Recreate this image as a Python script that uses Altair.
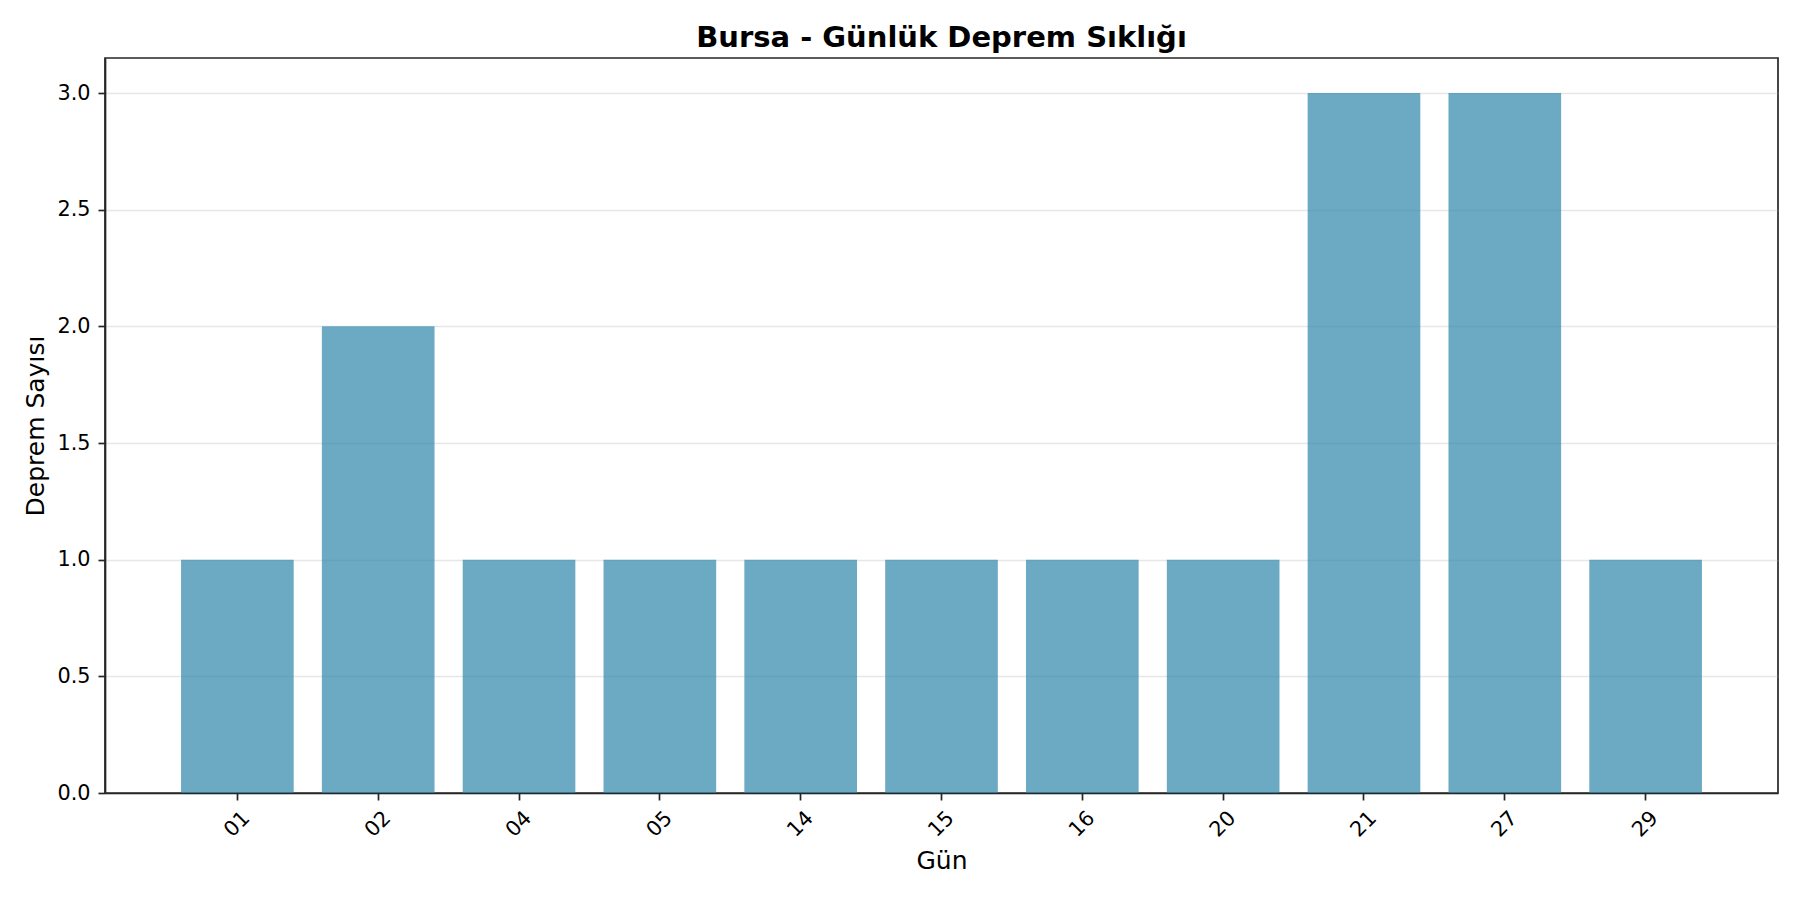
import altair as alt
import pandas as pd

days = ["01", "02", "04", "05", "14", "15", "16", "20", "21", "27", "29"]
counts = [1, 2, 1, 1, 1, 1, 1, 1, 3, 3, 1]

df = pd.DataFrame({"Gün": days, "Deprem Sayısı": counts})

FONT = "DejaVu Sans"

chart = alt.Chart(df).mark_bar(color="#2E86AB", opacity=0.7).encode(
    x=alt.X(
        "Gün:N",
        sort=days,
        scale=alt.Scale(paddingInner=0.2, paddingOuter=0.54),
        axis=alt.Axis(
            title="Gün",
            labelAngle=-45,
            labelAlign="center",
            labelBaseline="middle",
            labelPadding=24,
            titleY=75,
            titleBaseline="alphabetic",
            grid=False,
        ),
    ),
    y=alt.Y(
        "Deprem Sayısı:Q",
        scale=alt.Scale(domain=[0, 3.15], nice=False, zero=True),
        axis=alt.Axis(
            title="Deprem Sayısı",
            values=[0, 0.5, 1.0, 1.5, 2.0, 2.5, 3.0],
            format=".1f",
            labelPadding=8,
            titleX=-62,
            titleBaseline="alphabetic",
            grid=True,
            gridColor="#b0b0b0",
            gridOpacity=0.3,
            gridWidth=1.6,
        ),
    ),
).properties(
    width=1673,
    height=735,
    title=alt.TitleParams(
        "Bursa - Günlük Deprem Sıklığı",
        fontSize=29,
        fontWeight="bold",
        font=FONT,
        color="#000000",
        anchor="middle",
        baseline="alphabetic",
        offset=-18,
    ),
    autosize=alt.AutoSizeParams(type="none"),
    padding={"left": 97, "top": 50, "right": 14, "bottom": 98},
).configure_view(
    stroke="#262626", strokeWidth=1.7
).configure_axis(
    labelFont=FONT,
    titleFont=FONT,
    labelFontSize=20.8,
    titleFontSize=25,
    titleFontWeight="normal",
    labelColor="#000000",
    titleColor="#000000",
    domainColor="#262626",
    domainWidth=1.7,
    tickColor="#262626",
    tickWidth=1.7,
    tickSize=7,
)

chart.save("out.html", embed_options={"renderer": "svg", "actions": False})
